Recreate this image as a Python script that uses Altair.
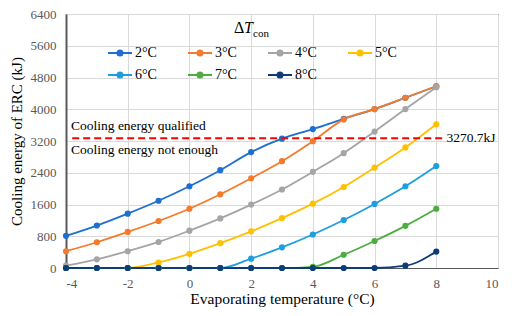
import altair as alt
import pandas as pd

temps = [-4, -3, -2, -1, 0, 1, 2, 3, 4, 5, 6, 7, 8]
series_names = ["2°C", "3°C", "4°C", "5°C", "6°C", "7°C", "8°C"]
s2 = [810, 1070, 1370, 1695, 2060, 2465, 2920, 3258, 3500, 3760, 4005, 4290, 4580]
s3 = [423, 649, 909, 1184, 1493, 1857, 2261, 2691, 3195, 3744, 4004, 4289, 4580]
s4 = [58, 219, 423, 656, 941, 1250, 1597, 1979, 2424, 2893, 3438, 4004, 4556]
s5 = [0, 0, 0, 139, 357, 625, 924, 1257, 1622, 2042, 2529, 3039, 3623]
s6 = [0, 0, 0, 0, 0, 0, 236, 520, 844, 1208, 1614, 2059, 2570]
s7 = [0, 0, 0, 0, 0, 0, 0, 0, 30, 333, 681, 1062, 1493]
s8 = [0, 0, 0, 0, 0, 0, 0, 0, 0, 0, 0, 58, 413]
colors = ["#1F6FD0", "#F47B2C", "#A5A5A5", "#FFC000", "#1C9FE0", "#4DAE3F", "#0E3C78"]
threshold = 3270.7
threshold_span = [-3.8, 8.2]
y_ticks = [0, 800, 1600, 2400, 3200, 4000, 4800, 5600, 6400]
x_ticks = [-4, -2, 0, 2, 4, 6, 8, 10]

all_series = [s2, s3, s4, s5, s6, s7, s8]
rows = []
for k, (name, vals) in enumerate(zip(series_names, all_series)):
    for t, v in zip(temps, vals):
        rows.append({"T": t, "E": v, "series": name, "k": k})
df = pd.DataFrame(rows)

# legend fills column by column (2 rows), so order the domain to read row by row
legend_order = [0, 4, 1, 5, 2, 6, 3]
dom = [series_names[i] for i in legend_order]
rng = [colors[i] for i in legend_order]

FONT = "Liberation Serif, Times New Roman, serif"

color = alt.Color(
    "series:N",
    scale=alt.Scale(domain=dom, range=rng),
    legend=alt.Legend(
        title=None,
        orient="none",
        legendX=41,
        legendY=26,
        columns=4,
        columnPadding=27,
        rowPadding=2,
        symbolType="M-1,0L1,0M-0.22,0A0.22,0.22,0,1,1,0.22,0A0.22,0.22,0,1,1,-0.22,0Z",
        symbolSize=576,
        symbolStrokeWidth=1.8,
        labelFont=FONT,
        labelFontSize=14,
        labelColor="#000000",
        labelOffset=2,
    ),
)

x = alt.X(
    "T:Q",
    scale=alt.Scale(domain=[-4, 10], nice=False),
    axis=alt.Axis(
        values=x_ticks,
        tickCount=len(x_ticks),
        labelExpr="'' + datum.value",
        title="Evaporating  temperature (°C)",
        titleFont=FONT,
        titleFontSize=15.5,
        titleFontWeight="normal",
        titleColor="#000000",
        titlePadding=1,
        labelFont=FONT,
        labelFontSize=13,
        labelColor="#595959",
        labelPadding=9,
        ticks=False,
        domainColor="#595959",
        gridColor="#D9D9D9",
    ),
)
y = alt.Y(
    "E:Q",
    scale=alt.Scale(domain=[0, 6400], nice=False),
    axis=alt.Axis(
        values=y_ticks,
        tickCount=len(y_ticks),
        labelExpr="'' + datum.value",
        labelOverlap=False,
        title="Cooling energy of ERC (kJ)",
        titleFont=FONT,
        titleFontSize=15,
        titleFontWeight="normal",
        titleColor="#000000",
        titleX=-42,
        labelFont=FONT,
        labelFontSize=13,
        labelColor="#595959",
        labelPadding=10,
        ticks=False,
        domainColor="#595959",
        domainWidth=2,
        gridColor="#D9D9D9",
    ),
)

base = alt.Chart(df)
lines = base.mark_line(interpolate="monotone", strokeWidth=1.8).encode(
    x=x, y=y, color=color, detail="series:N", order="T:Q"
)
points = base.mark_point(filled=True, size=38, opacity=1).encode(
    x=x, y=y, color=color
)

thr_df = pd.DataFrame({"x": [threshold_span[0]], "x2": [threshold_span[1]], "y": [threshold]})
rule = alt.Chart(thr_df).mark_rule(color="#FF0000", strokeWidth=2, strokeDash=[7, 4]).encode(
    x="x:Q", x2="x2:Q", y="y:Q"
)

ann_df = pd.DataFrame({
    "x": [-4, -4, threshold_span[1]],
    "y": [threshold, threshold, threshold],
    "text": ["Cooling energy qualified", "Cooling energy  not enough", "3270.7kJ"],
})
ann_top = alt.Chart(ann_df.iloc[[0]]).mark_text(
    align="left", baseline="middle", font=FONT, fontSize=13.5, color="#000000", dx=5, dy=-12
).encode(x="x:Q", y="y:Q", text="text:N")
ann_bot = alt.Chart(ann_df.iloc[[1]]).mark_text(
    align="left", baseline="middle", font=FONT, fontSize=13.5, color="#000000", dx=5, dy=12
).encode(x="x:Q", y="y:Q", text="text:N")
ann_val = alt.Chart(ann_df.iloc[[2]]).mark_text(
    align="left", baseline="middle", font=FONT, fontSize=13.5, color="#000000", dx=4
).encode(x="x:Q", y="y:Q", text="text:N")

title_df = pd.DataFrame({"a": [0]})
t_delta = alt.Chart(title_df).mark_text(
    align="left", baseline="middle", font=FONT, fontSize=16, color="#000000"
).encode(x=alt.value(168), y=alt.value(14), text=alt.value("Δ"))
t_T = alt.Chart(title_df).mark_text(
    align="left", baseline="middle", font=FONT, fontSize=16, fontStyle="italic", color="#000000"
).encode(x=alt.value(178), y=alt.value(14), text=alt.value("T"))
t_con = alt.Chart(title_df).mark_text(
    align="left", baseline="middle", font=FONT, fontSize=11, color="#000000"
).encode(x=alt.value(187), y=alt.value(20), text=alt.value("con"))

chart = alt.layer(
    lines, points, rule, ann_top, ann_bot, ann_val, t_delta, t_T, t_con
).properties(
    width=432,
    height=254,
    autosize=alt.AutoSizeParams(type="none"),
    padding={"left": 58, "top": 6, "right": 6, "bottom": 40},
).configure_view(
    stroke="#000000", strokeWidth=1
).configure_axis(
    grid=True
)

chart.save("out.html", embed_options={"renderer": "svg", "actions": False})
